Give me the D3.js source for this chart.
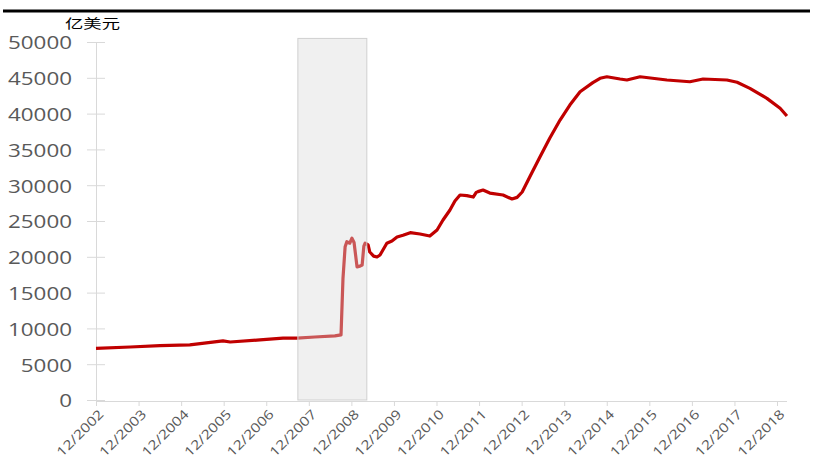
<!DOCTYPE html>
<html><head><meta charset="utf-8">
<script src="https://cdn.jsdelivr.net/npm/d3@7/dist/d3.min.js"></script>
<style>body{margin:0;background:#fff}svg{display:block}</style>
</head><body>
<svg id="c" width="815" height="468"></svg>
<script>
// time in decimal years, values in 亿美元
const times = [2002.917,2003.72,2004.42,2005.12,2005.9,2006.07,2006.77,2007.31,2007.64,2008.06,2008.53,2008.674,
 2008.72,2008.77,2008.81,2008.88,2008.93,2008.98,2009.05,2009.12,2009.17,2009.21,2009.24,2009.31,2009.35,2009.44,
 2009.52,2009.59,2009.75,2009.87,2009.99,2010.13,2010.30,2010.53,2010.76,2010.93,2011.07,2011.23,2011.35,2011.47,
 2011.63,2011.78,2011.85,2011.89,2012.01,2012.17,2012.48,2012.69,2012.81,2012.93,2013.11,2013.35,2013.58,2013.82,
 2014.05,2014.29,2014.59,2014.76,2014.92,2015.23,2015.39,2015.70,2016.33,2016.87,2017.18,2017.74,2017.98,2018.28,
 2018.68,2018.99,2019.15];
const values = [7200,7400,7600,7700,8250,8100,8400,8650,8650,8800,8950,9100,
 17000,21400,22100,21900,22600,22000,18600,18700,18850,21500,21900,21650,20670,20100,
 19970,20250,21900,22200,22760,23000,23370,23180,22900,23740,25140,26500,27800,28630,
 28550,28350,29000,29100,29330,28900,28630,28070,28300,29050,31190,33980,36590,39100,
 41200,43060,44320,44930,45150,44830,44690,45150,44690,44450,44830,44690,44370,43530,
 42130,40740,39660];
const tickYears = [2002,2003,2004,2005,2006,2007,2008,2009,2010,2011,2012,2013,2014,2015,2016,2017,2018];
const tickLabels = tickYears.map(y => "12/" + y);
const yTicks = [0,5000,10000,15000,20000,25000,30000,35000,40000,45000,50000];
const shadeRange = [2007.66, 2009.28];
const shadeTop = 50500;
const unitLabel = "亿美元";

const svg = d3.select("#c");
const x = d3.scaleLinear().domain([2002.917, 2018.917]).range([96, 777]);
const y = d3.scaleLinear().domain([0, 50000]).range([400, 42]);
const font = "'Open Sans', 'Noto Sans', sans-serif";

// top black rule
svg.append("line").attr("x1",3).attr("x2",810).attr("y1",11).attr("y2",11)
  .attr("stroke","#000").attr("stroke-width",3);

// unit label
svg.append("text").attr("x",65).attr("y",28).text(unitLabel)
  .attr("font-family","'Noto Sans CJK SC', sans-serif").attr("font-size",13)
  .attr("textLength",55).attr("lengthAdjust","spacingAndGlyphs").attr("fill","#000");

// axes
const gy = svg.append("g").attr("transform","translate(96,0)")
  .call(d3.axisLeft(y).tickValues(yTicks).tickFormat(d3.format("d")).tickSize(9).tickSizeOuter(0));
gy.select(".domain").attr("stroke","#d9d9d9");
gy.selectAll(".tick line").attr("stroke","#d9d9d9").attr("x2",9).attr("x1",-9);
gy.selectAll(".tick text").attr("font-family",font).attr("font-size",19).attr("fill","#595959")
  .attr("x",-24).attr("dy","0.36em")
  .attr("textLength", d => String(d).length*12.8).attr("lengthAdjust","spacingAndGlyphs");

const tickPos = tickYears.map(v => v + 0.917);
const gx = svg.append("g").attr("transform","translate(0,401)")
  .call(d3.axisBottom(x).tickValues(tickPos).tickFormat((d,i) => tickLabels[i]).tickSize(5).tickSizeOuter(0));
gx.select(".domain").attr("stroke","#d9d9d9").attr("d","M96,0.5H787");
gx.selectAll(".tick line").attr("stroke","#d9d9d9");
gx.selectAll(".tick text").attr("font-family",font).attr("font-size",13).attr("fill","#595959")
  .attr("text-anchor","end").attr("x",0).attr("y",0).attr("dy","0")
  .attr("transform","translate(8,14) rotate(-45)")
  .attr("textLength",60).attr("lengthAdjust","spacingAndGlyphs");

// line
const line = d3.line().x((d,i) => x(times[i])).y(d => y(d)).curve(d3.curveLinear);
svg.append("path").datum(values).attr("d",line).attr("fill","none")
  .attr("stroke","#C00000").attr("stroke-width",3.2).attr("stroke-linejoin","round");

// shaded period drawn over line
svg.append("rect").attr("x",x(shadeRange[0])).attr("y",y(shadeTop))
  .attr("width",x(shadeRange[1])-x(shadeRange[0])).attr("height",y(0)-y(shadeTop))
  .attr("fill","#d9d9d9").attr("fill-opacity",0.4).attr("stroke","#d0d0d0").attr("stroke-width",1);
</script>
</body></html>
